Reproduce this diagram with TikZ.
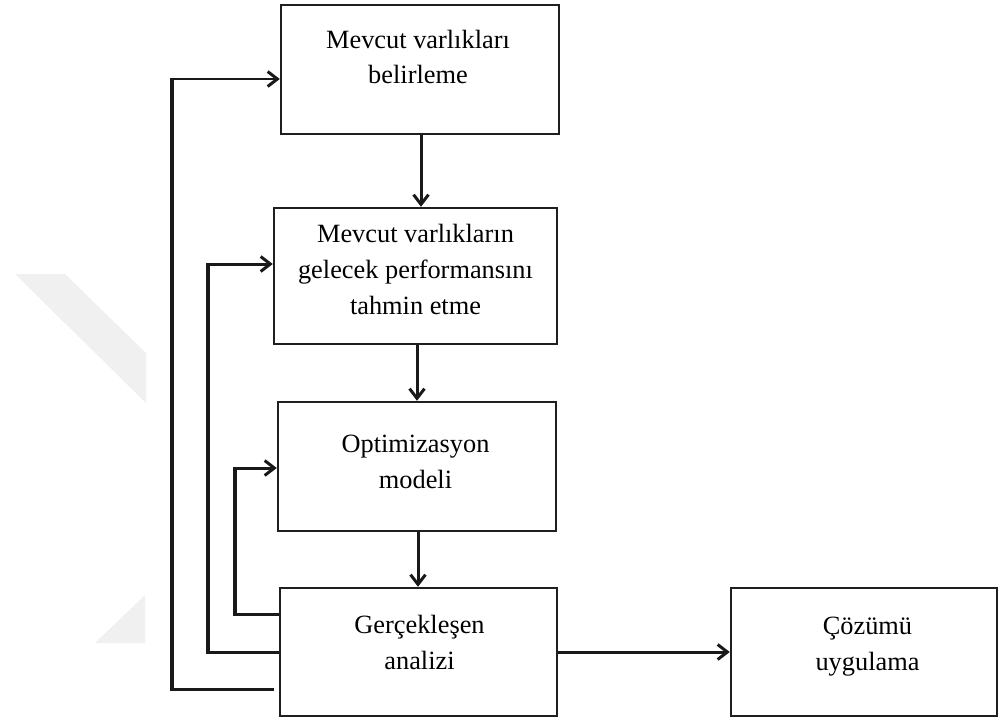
\documentclass[tikz,border=0pt]{standalone}
\usepackage{fontspec}
\setmainfont{Liberation Serif}
\usetikzlibrary{arrows.meta,calc}
\begin{document}
\begin{tikzpicture}[x=0.02cm,y=-0.02cm,
  box/.style={draw=black!88, line width=1.4pt, inner sep=0pt},
  lbl/.style={align=center, inner sep=0pt, font=\fontsize{15pt}{20.4pt}\selectfont},
  tip/.style={-{Straight Barb[length=5.5pt,width=8.5pt]}},
  link/.style={draw=black!90, line width=1.7pt, tip},
  back/.style={draw=black!90, line width=1.7pt, line join=miter},
  riser/.style={draw=black!90, line width=#1, line cap=butt}
]
\useasboundingbox (0,0) rectangle (1000,724);

% faint background mark
\fill[black!6] (15,274) -- (65,274) -- (146,353) -- (146,403) -- cycle;
\fill[black!6] (145,595) -- (145,643) -- (95,643) -- cycle;

% process boxes
\node[box, minimum width=278*0.02cm, minimum height=129*0.02cm] (b1) at (420,69.5) {};
\node[box, minimum width=283*0.02cm, minimum height=136*0.02cm] (b2) at (415.5,276) {};
\node[box, minimum width=278*0.02cm, minimum height=129*0.02cm] (b3) at (417,466.5) {};
\node[box, minimum width=277*0.02cm, minimum height=128*0.02cm] (b4) at (418.5,652) {};
\node[box, minimum width=266*0.02cm, minimum height=128*0.02cm] (b5) at (864,652) {};

% box texts
\node[lbl] (t1) at (418,57) {Mevcut varlıkları\\belirleme};
\node[lbl] (t2) at (415.5,269.5) {Mevcut varlıkların\\gelecek performansını\\tahmin etme};
\node[lbl] (t3) at (415.5,461.5) {Optimizasyon\\modeli};
\node[lbl] (t4) at (419.5,642.5) {Gerçekleşen\\analizi};
\node[lbl] (t5) at (867.5,647) {Çözümü\\uygulama};

% main flow
\draw[link] (b1.south -| 421,0) -- (b2.north -| 421,0);
\draw[link] (b2.south -| 417,0) -- (b3.north -| 417,0);
\draw[link] (b3.south -| 418,0) -- (b4.north -| 418,0);
\draw[link] (b4.east) -- (b5.west);

% feedback loops from the analysis step
\coordinate (o0) at (274,689);
\coordinate (o1) at (172,689);
\coordinate (o2) at (172,79);
\draw[back, tip] (o0) -- (o1) -- (o2) -- (b1.west |- o2);
\draw[riser=2.7pt] ($(o1)+(0,1.5)$) -- ($(o2)+(0,-1.5)$);

\coordinate (m1) at (208,652);
\coordinate (m2) at (208,264);
\draw[back, tip] (b4.west |- m1) -- (m1) -- (m2) -- (b2.west |- m2);
\draw[riser=2.0pt] ($(m1)+(0,1.5)$) -- ($(m2)+(0,-1.5)$);

\coordinate (i1) at (235,614);
\coordinate (i2) at (235,468);
\draw[back, tip] (b4.west |- i1) -- (i1) -- (i2) -- (b3.west |- i2);
\draw[riser=2.7pt] ($(i1)+(0,1.5)$) -- ($(i2)+(0,-1.5)$);
\end{tikzpicture}
\end{document}
